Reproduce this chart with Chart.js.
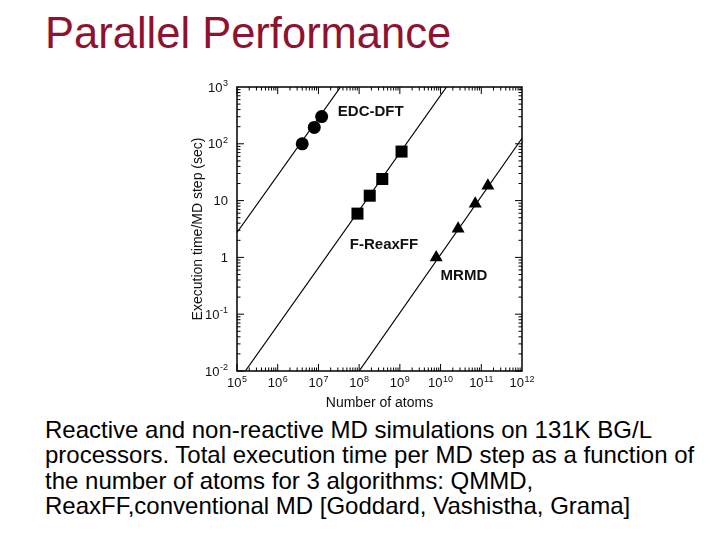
<!DOCTYPE html>
<html>
<head>
<meta charset="utf-8">
<script src="https://cdn.jsdelivr.net/npm/chart.js@4.4.1/dist/chart.umd.min.js"></script>
<style>
  body { margin: 0; width: 720px; height: 540px; background: #fff; position: relative; overflow: hidden; font-family: "Liberation Sans", Arial, sans-serif; }
  #title { position: absolute; left: 45px; top: 9px; font-size: 43.5px; color: #8e1330; white-space: nowrap; }
  #caption { position: absolute; left: 45px; top: 417px; font-size: 24px; line-height: 25.3px; color: #000; white-space: nowrap; }
  #chartBox { position: absolute; left: 185px; top: 70px; width: 360px; height: 342px; }
</style>
</head>
<body>
<div id="title">Parallel Performance</div>
<div id="chartBox"><canvas id="perf"></canvas></div>
<div id="caption">Reactive and non-reactive MD simulations on 131K BG/L<br>processors. Total execution time per MD step as a function of<br>the number of atoms for 3 algorithms: QMMD,<br>ReaxFF,conventional MD [Goddard, Vashistha, Grama]</div>
<script>
// measured points (atoms, sec per step)
const edcAtoms = [4.0e6, 7.9e6, 1.2e7];
const edcTime = [100, 194, 302];
const reaxAtoms = [9.1e7, 1.82e8, 3.7e8, 1.1e9];
const reaxTime = [5.9, 12.2, 24, 73];
const mrmdAtoms = [7.8e9, 2.7e10, 7.1e10, 1.45e11];
const mrmdTime = [1.0, 3.2, 8.8, 18.3];

// fitted lines, end points
const edcFitAtoms = [1e5, 3.5e7];
const edcFitTime = [2.75, 1000];
const reaxFitAtoms = [1.6e5, 1.4e10];
const reaxFitTime = [0.01, 1000];
const mrmdFitAtoms = [1e8, 1e12];
const mrmdFitTime = [0.01, 125];

const seriesNames = ['EDC-DFT', 'F-ReaxFF', 'MRMD'];

const xTicks = [1e5, 1e6, 1e7, 1e8, 1e9, 1e10, 1e11, 1e12];
const xTickLabels = ['10^5', '10^6', '10^7', '10^8', '10^9', '10^10', '10^11', '10^12'];
const yTicks = [1e-2, 1e-1, 1, 10, 1e2, 1e3];
const yTickLabels = ['10^-2', '10^-1', '1', '10', '10^2', '10^3'];

const pts = (xs, ys) => xs.map((x, i) => ({x: x, y: ys[i]}));

const fontFam = '"Liberation Sans", Arial, sans-serif';
const baseFont = '13px ' + fontFam;
const supFont = '9px ' + fontFam;

// draws "10" with a raised exponent; align 'center' or 'right'
function powLabel(ctx, text, x, y, align) {
  const [base, exp] = text.split('^');
  ctx.font = baseFont;
  const wb = ctx.measureText(base).width;
  ctx.font = supFont;
  const we = exp ? ctx.measureText(exp).width + 0.5 : 0;
  const w = wb + we;
  const left = align === 'right' ? x - w : x - w / 2;
  ctx.textAlign = 'left';
  ctx.textBaseline = 'alphabetic';
  ctx.font = baseFont;
  ctx.fillText(base, left, y);
  if (exp) {
    ctx.font = supFont;
    ctx.fillText(exp, left + wb + 0.5, y - 5.5);
  }
}

// inward ticks + frame + labels, like the original plot
const framePlugin = {
  id: 'frame',
  afterDraw(chart) {
    const {ctx, chartArea: a, scales} = chart;
    const xs = scales.x, ys = scales.y;
    ctx.save();
    ctx.strokeStyle = '#000';
    ctx.lineWidth = 1.5;
    ctx.strokeRect(a.left, a.top, a.right - a.left, a.bottom - a.top);
    ctx.lineWidth = 1;
    ctx.beginPath();
    for (let d = 5; d < 12; d++) {
      for (let m = 1; m < 10; m++) {
        const px = xs.getPixelForValue(m * Math.pow(10, d));
        const len = m === 1 ? 7 : 3.5;
        ctx.moveTo(px, a.bottom); ctx.lineTo(px, a.bottom - len);
        ctx.moveTo(px, a.top); ctx.lineTo(px, a.top + len);
      }
    }
    for (let d = -2; d < 3; d++) {
      for (let m = 1; m < 10; m++) {
        const py = ys.getPixelForValue(m * Math.pow(10, d));
        const len = m === 1 ? 7 : 3.5;
        ctx.moveTo(a.left, py); ctx.lineTo(a.left + len, py);
        ctx.moveTo(a.right, py); ctx.lineTo(a.right - len, py);
      }
    }
    ctx.stroke();

    ctx.fillStyle = '#111';
    xTicks.forEach((v, i) => powLabel(ctx, xTickLabels[i], xs.getPixelForValue(v), a.bottom + 16, 'center'));
    yTicks.forEach((v, i) => powLabel(ctx, yTickLabels[i], a.left - 9, ys.getPixelForValue(v) + 4.5, 'right'));

    // series names next to the lines
    const spots = [[3.0e7, 367], [5.9e7, 1.67], [1.0e10, 0.48]];
    ctx.font = 'bold 15px ' + fontFam;
    ctx.textBaseline = 'middle';
    ctx.textAlign = 'left';
    seriesNames.forEach((name, i) => {
      ctx.fillText(name, xs.getPixelForValue(spots[i][0]), ys.getPixelForValue(spots[i][1]));
    });
    ctx.restore();
  }
};

const pointSet = (data, style, r) => ({
  data: data, showLine: false, pointStyle: style, pointRadius: r,
  pointBackgroundColor: '#000', pointBorderColor: '#000', borderWidth: 0
});
const lineSet = (data) => ({
  data: data, showLine: true, pointRadius: 0, borderColor: '#000', borderWidth: 1.2
});

new Chart(document.getElementById('perf'), {
  type: 'scatter',
  data: {
    datasets: [
      lineSet(pts(edcFitAtoms, edcFitTime)),
      lineSet(pts(reaxFitAtoms, reaxFitTime)),
      lineSet(pts(mrmdFitAtoms, mrmdFitTime)),
      pointSet(pts(edcAtoms, edcTime), 'circle', 6.5),
      pointSet(pts(reaxAtoms, reaxTime), 'rect', 8.5),
      pointSet(pts(mrmdAtoms, mrmdTime), 'triangle', 7.5)
    ]
  },
  options: {
    responsive: true,
    maintainAspectRatio: false,
    animation: false,
    layout: {padding: {top: 17, right: 23, left: 0, bottom: 0}},
    plugins: {legend: {display: false}, tooltip: {enabled: false}},
    scales: {
      x: {
        type: 'logarithmic', min: 1e5, max: 1e12,
        grid: {display: false}, border: {display: false},
        afterBuildTicks: s => { s.ticks = xTicks.map(v => ({value: v})); },
        afterFit: s => { s.height = 41; },
        ticks: {display: false},
        title: {display: true, text: 'Number of atoms', color: '#111',
          font: {family: fontFam, size: 14}, padding: {top: 0, bottom: 0}}
      },
      y: {
        type: 'logarithmic', min: 1e-2, max: 1e3,
        grid: {display: false}, border: {display: false},
        afterBuildTicks: s => { s.ticks = yTicks.map(v => ({value: v})); },
        afterFit: s => { s.width = 52; },
        ticks: {display: false},
        title: {display: true, text: 'Execution time/MD step (sec)', color: '#111',
          font: {family: fontFam, size: 14}, padding: {top: 5, bottom: 0}}
      }
    }
  },
  plugins: [framePlugin]
});
</script>
</body>
</html>
